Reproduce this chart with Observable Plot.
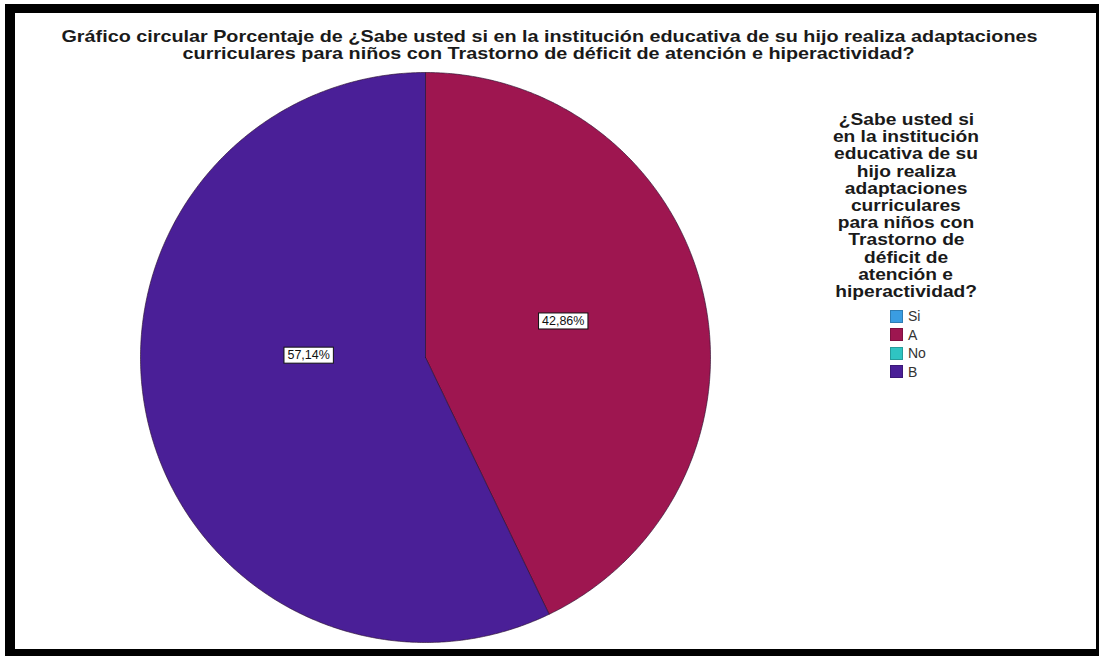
<!DOCTYPE html>
<html>
<head>
<meta charset="utf-8">
<script src="https://cdn.jsdelivr.net/npm/d3@7"></script>
<script src="https://cdn.jsdelivr.net/npm/@observablehq/plot@0.6"></script>
<style>
  html, body { margin: 0; padding: 0; background: #fff; }
  #page { position: relative; width: 1099px; height: 656px; overflow: hidden; background: #fff;
          font-family: "Liberation Sans", Arial, sans-serif; }
  #frame { position: absolute; left: 5px; top: 4px; width: 1094px; height: 652px; box-sizing: border-box;
           border-style: solid; border-color: #000; border-width: 9px 3px 7px 10px; }
  #title { position: absolute; left: 15px; width: 1068px; top: 28px; text-align: center;
           font-weight: bold; font-size: 17px; line-height: 17px; color: #1a1a1a; }
  #pie { position: absolute; left: 138px; top: 70px; }
  #legend { position: absolute; left: 816px; width: 180px; top: 111px; color: #1a1a1a; }
  #legend .ltitle { text-align: center; font-weight: bold; font-size: 16px; line-height: 17.2px; }
  .line { display: block; white-space: nowrap; }
  .line span { display: inline-block; transform-origin: 50% 50%; }
  #legend .items { margin-left: 74px; margin-top: 7px; }
  #legend .item { display: flex; align-items: center; height: 18.5px; font-size: 14px; color: #333; }
  #legend .sw { width: 13px; height: 13px; margin-right: 5px; box-sizing: border-box; border: 1px solid rgba(0,0,0,0.2); }
</style>
</head>
<body>
<div id="page">
  <div id="frame"></div>
  <div id="title"></div>
  <div id="pie"></div>
  <div id="legend"></div>
</div>
<script>
// Response categories, their colours and percentages
const categories = ["Si", "A", "No", "B"];
const colors = ["#3a9de2", "#9e1650", "#2fc4c2", "#4a1f97"];
const percents = [0, 42.86, 0, 57.14];

const titleLines = [
  "Gráfico circular Porcentaje de ¿Sabe usted si en la institución educativa de su hijo realiza adaptaciones",
  "curriculares para niños con Trastorno de déficit de atención e hiperactividad?"
];
const legendTitleLines = [
  "¿Sabe usted si", "en la institución", "educativa de su", "hijo realiza",
  "adaptaciones", "curriculares", "para niños con", "Trastorno de",
  "déficit de", "atención e", "hiperactividad?"
];

// Write centred text lines, stretched horizontally so the widest line spans `targetWidth`
function stretchedLines(container, lines, targetWidth) {
  container.innerHTML = lines.map(t => `<div class="line"><span>${t}</span></div>`).join("");
  const spans = [...container.querySelectorAll(".line span")];
  const widest = Math.max(...spans.map(s => s.getBoundingClientRect().width));
  const k = targetWidth / widest;
  spans.forEach(s => s.style.transform = `scaleX(${k})`);
}

// Title
stretchedLines(document.getElementById("title"), titleLines, 976);

// Legend
const legend = document.getElementById("legend");
legend.innerHTML =
  `<div class="ltitle"></div>` +
  `<div class="items">` +
  categories.map((c, i) =>
    `<div class="item"><span class="sw" style="background:${colors[i]}"></span>${c}</div>`).join("") +
  `</div>`;
stretchedLines(legend.querySelector(".ltitle"), legendTitleLines, 146);

// Slices: angles measured clockwise from 12 o'clock
const arcs = d3.pie().sort(null).value(d => d)(percents);
const wedges = [];
arcs.forEach((a, i) => {
  if (a.endAngle - a.startAngle <= 0) return;
  const cat = categories[i];
  wedges.push({cat, x: 0, y: 0});
  const n = Math.max(2, Math.ceil((a.endAngle - a.startAngle) / (Math.PI / 360)));
  for (let k = 0; k <= n; ++k) {
    const t = a.startAngle + (a.endAngle - a.startAngle) * k / n;
    wedges.push({cat, x: Math.sin(t), y: Math.cos(t)});
  }
  wedges.push({cat, x: 0, y: 0});
});

// Label placement (radius as a fraction, angle offset from the slice middle, degrees)
const labelPlacement = {A: {r: 0.5, shift: -2}, B: {r: 0.41, shift: 14}};
const labels = [];
arcs.forEach((a, i) => {
  if (percents[i] <= 0) return;
  const p = labelPlacement[categories[i]];
  const t = (a.startAngle + a.endAngle) / 2 + p.shift * Math.PI / 180;
  labels.push({
    cat: categories[i],
    x: p.r * Math.sin(t),
    y: p.r * Math.cos(t),
    text: percents[i].toFixed(2).replace(".", ",") + "%"
  });
});

const labelFontSize = 12.5;
const labelFont = `${labelFontSize}px 'Liberation Sans', Arial, sans-serif`;
function boxedText(index, scales, values, dimensions, context, next) {
  const g = next(index, scales, values, dimensions, context);
  const ctx = document.createElement("canvas").getContext("2d");
  ctx.font = labelFont;
  for (const i of index) {
    const w = ctx.measureText(labels[i].text).width + 7;
    const h = 16;
    const r = document.createElementNS("http://www.w3.org/2000/svg", "rect");
    r.setAttribute("x", values.x[i] - w / 2);
    r.setAttribute("y", values.y[i] - h / 2);
    r.setAttribute("width", w);
    r.setAttribute("height", h);
    r.setAttribute("fill", "#fff");
    r.setAttribute("stroke", "#111");
    r.setAttribute("stroke-width", 1);
    g.insertBefore(r, g.firstChild);
  }
  return g;
}

const R = 285, M = 2;
const chart = Plot.plot({
  width: 2 * R + 2 * M,
  height: 2 * R + 2 * M,
  margin: M,
  x: {domain: [-1, 1], axis: null},
  y: {domain: [-1, 1], axis: null},
  color: {domain: categories, range: colors},
  style: {background: "transparent", overflow: "visible"},
  marks: [
    Plot.line(wedges, {x: "x", y: "y", z: "cat", fill: "cat", stroke: "#2a1030", strokeWidth: 0.8, strokeOpacity: 0.8, curve: "linear"}),
    Plot.text(labels, {x: "x", y: "y", text: "text", fill: "#111", fontSize: labelFontSize,
                       fontFamily: "'Liberation Sans', Arial, sans-serif", render: boxedText})
  ]
});
document.getElementById("pie").appendChild(chart);
</script>
</body>
</html>
